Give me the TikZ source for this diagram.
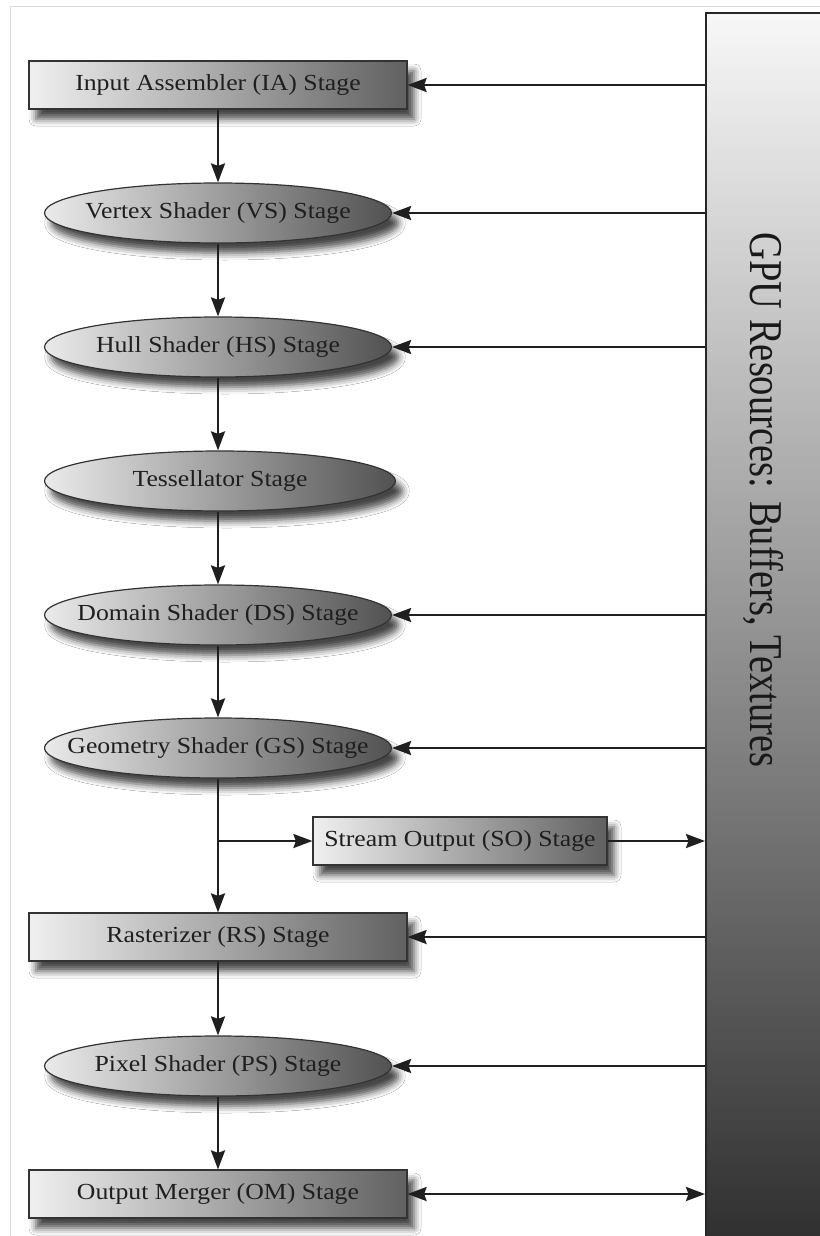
\documentclass[tikz,border=0pt]{standalone}
\usepackage{fontspec}
\setmainfont{Liberation Serif}
\newfontfamily\stagefont[FakeStretch=1.12]{Liberation Serif}
\newfontfamily\gpufont[FakeStretch=0.82]{Liberation Serif}
\usetikzlibrary{shapes.geometric,arrows.meta,shadows.blur}

\tikzset{
  stagetext/.style={font=\stagefont\fontsize{23}{23}\selectfont, text=black!88},
  softshadow/.style={blur shadow={shadow xshift=7pt, shadow yshift=-10pt,
      shadow blur radius=7pt, shadow opacity=72}},
  stagebox/.style={rectangle, draw=black!80, line width=1.2pt,
      left color=white!94!black, right color=black!62,
      minimum width=378pt, minimum height=48pt, inner sep=0pt,
      stagetext, softshadow},
  stageell/.style={ellipse, draw=black!80, line width=1.2pt,
      left color=white!92!black, right color=black!68,
      minimum width=347pt, minimum height=60pt, inner sep=0pt, softshadow},
  gpubar/.style={rectangle, draw=black!85, line width=1.8pt,
      top color=white!97!black, bottom color=black!82,
      minimum width=130pt, minimum height=1240pt, anchor=north west},
  gputext/.style={font=\gpufont\fontsize{47}{47}\selectfont, text=black!90},
  tip/.style={Stealth[length=19pt,width=14pt,inset=2.5pt]},
  flow/.style={draw=black!88, line width=2.4pt, -{Stealth[length=19pt,width=14pt,inset=2.5pt]}},
  twoway/.style={draw=black!88, line width=2.4pt,
      {Stealth[length=19pt,width=14pt,inset=2.5pt]}-{Stealth[length=19pt,width=14pt,inset=2.5pt]}},
}

\begin{document}
\begin{tikzpicture}[x=1pt, y=-1pt]
  \useasboundingbox (0,0) rectangle (819,1236);
  \fill[white] (0,0) rectangle (819,1236);
  % light page frame
  \draw[black!14, line width=1pt] (10,1240) -- (10,7) -- (830,7);

  % resource bar on the right
  \node[gpubar] (gpu) at (705,12) {};
  \node[gputext, rotate=-90] (gpulabel) at (763,500) {GPU Resources: Buffers, Textures};

  % pipeline stages
  \node[stagebox] (ia) at (218,85) {Input Assembler (IA) Stage};
  \node[stageell, label={[stagetext]center:Vertex Shader (VS) Stage}] (vs) at (218,213) {};
  \node[stageell, label={[stagetext]center:Hull Shader (HS) Stage}] (hs) at (218,347) {};
  \node[stageell, minimum width=351pt, label={[stagetext]center:Tessellator Stage}] (ts) at (220,481) {};
  \node[stageell, label={[stagetext]center:Domain Shader (DS) Stage}] (ds) at (218,615) {};
  \node[stageell, label={[stagetext]center:Geometry Shader (GS) Stage}] (gs) at (218,748) {};
  \node[stagebox, minimum width=294pt] (so) at (460,841) {Stream Output (SO) Stage};
  \node[stagebox] (rs) at (218,937) {Rasterizer (RS) Stage};
  \node[stageell, label={[stagetext]center:Pixel Shader (PS) Stage}] (ps) at (218,1066) {};
  \node[stagebox] (om) at (218,1194) {Output Merger (OM) Stage};

  % vertical flow through the pipeline
  \draw[flow] (ia.south) -- (vs.north);
  \draw[flow] (vs.south) -- (hs.north);
  \draw[flow] (hs.south) -- (ts.north -| hs.south);
  \draw[flow] (ts.south -| ds.north) -- (ds.north);
  \draw[flow] (ds.south) -- (gs.north);
  \draw[flow] (gs.south) -- (rs.north);
  \draw[flow] (rs.south) -- (ps.north);
  \draw[flow] (ps.south) -- (om.north);

  % stream output branch
  \coordinate (branch) at (gs.south |- so.west);
  \draw[flow] (branch) -- (so.west);
  \draw[flow] (so.east) -- (gpu.west |- so.east);

  % resource access
  \draw[flow] (gpu.west |- ia.east) -- (ia.east);
  \draw[flow] (gpu.west |- vs.east) -- (vs.east);
  \draw[flow] (gpu.west |- hs.east) -- (hs.east);
  \draw[flow] (gpu.west |- ds.east) -- (ds.east);
  \draw[flow] (gpu.west |- gs.east) -- (gs.east);
  \draw[flow] (gpu.west |- rs.east) -- (rs.east);
  \draw[flow] (gpu.west |- ps.east) -- (ps.east);
  \draw[twoway] (om.east) -- (gpu.west |- om.east);
\end{tikzpicture}
\end{document}
